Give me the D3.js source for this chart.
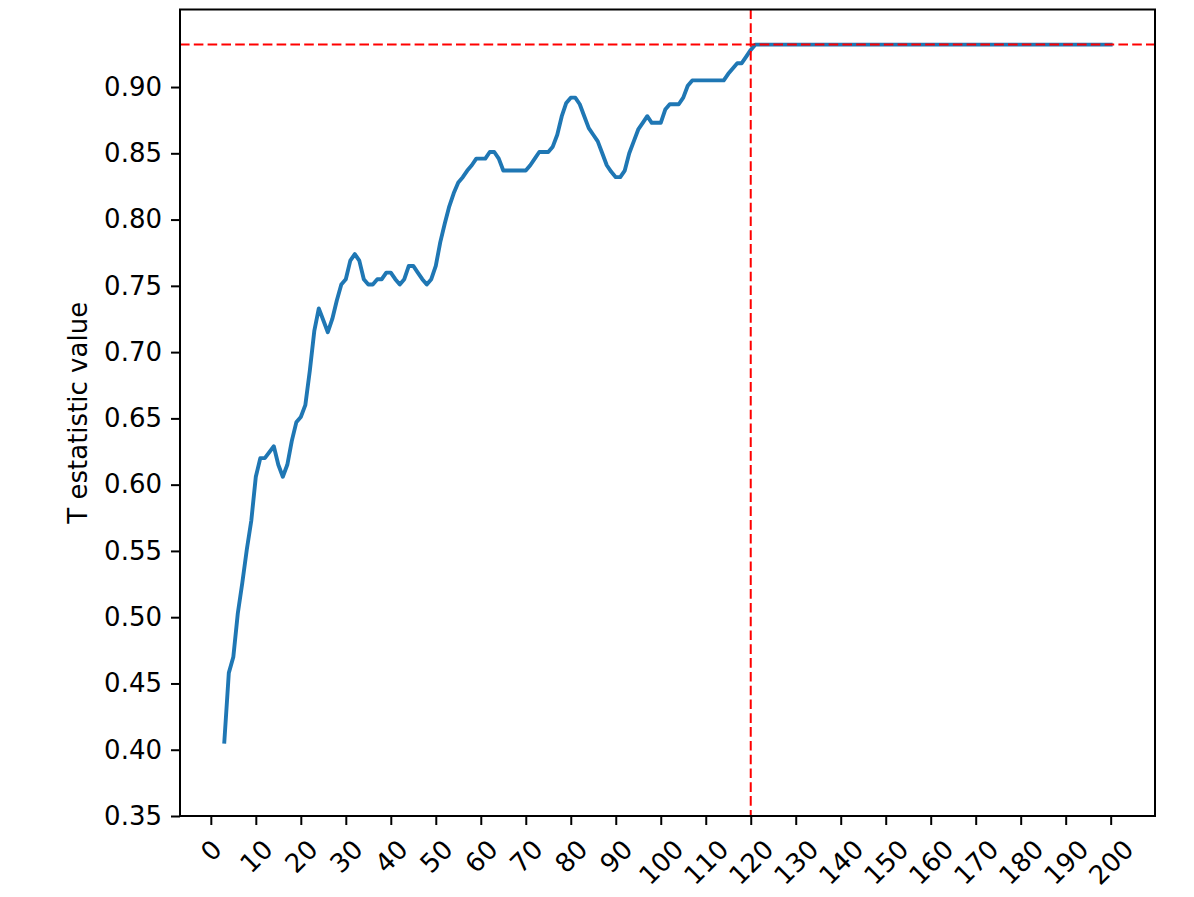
<!DOCTYPE html>
<html>
<head>
<meta charset="utf-8">
<script src="https://cdn.jsdelivr.net/npm/d3@7"></script>
<style>
  body { margin: 0; background: #fff; }
  text { font-family: "DejaVu Sans", sans-serif; }
</style>
</head>
<body>
<div id="chart"></div>
<script>
// Data
const steps = [3, 4, 5, 6, 7, 8, 9, 10, 11, 12, 14, 15, 16, 17, 18, 19, 20, 21, 22, 23,
  24, 25, 26, 27, 28, 29, 30, 31, 32, 33, 34, 35, 36, 37, 38, 39, 40, 41, 42, 43,
  44, 45, 46, 47, 48, 49, 50, 51, 52, 53, 54, 55, 56, 57, 58, 59, 61, 62, 63, 64,
  65, 70, 71, 72, 73, 75, 76, 77, 78, 79, 80, 81, 82, 83, 84, 85, 86, 87, 88, 89,
  90, 91, 92, 93, 94, 95, 96, 97, 98, 100, 101, 102, 104, 105, 106, 107, 114, 115, 116, 117,
  118, 119, 120, 121, 200];
const tValues = [0.406, 0.458, 0.470, 0.503, 0.526, 0.551, 0.573, 0.606, 0.620, 0.620, 0.629, 0.615, 0.606, 0.615, 0.633, 0.647, 0.651, 0.660, 0.686, 0.716,
  0.733, 0.724, 0.715, 0.725, 0.739, 0.751, 0.755, 0.769, 0.774, 0.769, 0.755, 0.751, 0.751, 0.755, 0.755, 0.760, 0.760, 0.755, 0.751, 0.755,
  0.765, 0.765, 0.760, 0.755, 0.751, 0.755, 0.765, 0.783, 0.797, 0.810, 0.820, 0.828, 0.832, 0.837, 0.841, 0.846, 0.846, 0.851, 0.851, 0.846,
  0.837, 0.837, 0.841, 0.846, 0.851, 0.851, 0.855, 0.864, 0.878, 0.888, 0.892, 0.892, 0.887, 0.878, 0.869, 0.864, 0.859, 0.850, 0.841, 0.836,
  0.832, 0.832, 0.837, 0.850, 0.859, 0.868, 0.873, 0.878, 0.873, 0.873, 0.883, 0.887, 0.887, 0.892, 0.901, 0.905, 0.905, 0.910, 0.914, 0.918,
  0.918, 0.923, 0.928, 0.932, 0.932];
const xTicks = d3.range(0, 201, 10);
const yTicks = [0.35, 0.40, 0.45, 0.50, 0.55, 0.60, 0.65, 0.70, 0.75, 0.80, 0.85, 0.90];
const bestStep = 120;
const bestValue = 0.932;
const yLabel = "T estatistic value";

const width = 1194, height = 897;
const plotLeft = 180, plotRight = 1155, plotTop = 9.5, plotBottom = 816;
const fontSize = 26;

const svg = d3.select("#chart").append("svg")
    .attr("width", width)
    .attr("height", height);

const x = d3.scaleLinear().domain([-6.85, 209.85]).range([plotLeft, plotRight]);
const y = d3.scaleLinear().domain([0.35, 0.9585]).range([plotBottom, plotTop]);

// clip for the plotting area
svg.append("clipPath").attr("id", "clip")
  .append("rect")
    .attr("x", plotLeft).attr("y", plotTop)
    .attr("width", plotRight - plotLeft).attr("height", plotBottom - plotTop);

const plot = svg.append("g").attr("clip-path", "url(#clip)");

// T statistic curve
const line = d3.line()
    .x((d, i) => x(steps[i]))
    .y(d => y(d));

plot.append("path")
    .datum(tValues)
    .attr("d", line)
    .attr("fill", "none")
    .attr("stroke", "#1f77b4")
    .attr("stroke-width", 3.9)
    .attr("stroke-linejoin", "round")
    .attr("stroke-linecap", "square");

// Red dashed reference lines
plot.append("line")
    .attr("x1", plotLeft).attr("x2", plotRight)
    .attr("y1", y(bestValue)).attr("y2", y(bestValue))
    .attr("stroke", "red")
    .attr("stroke-width", 2)
    .attr("stroke-dasharray", "9.6,4.2");

plot.append("line")
    .attr("x1", x(bestStep)).attr("x2", x(bestStep))
    .attr("y1", plotTop).attr("y2", plotBottom)
    .attr("stroke", "red")
    .attr("stroke-width", 2)
    .attr("stroke-dasharray", "9.6,4.2");

// Axes
const yAxis = svg.append("g")
    .attr("transform", `translate(${plotLeft},0)`)
    .call(d3.axisLeft(y).tickValues(yTicks).tickFormat(d3.format(".2f"))
      .tickSize(9).tickPadding(9).tickSizeOuter(0));

yAxis.select(".domain").remove();
yAxis.selectAll(".tick line").attr("stroke", "#000").attr("stroke-width", 2);
yAxis.selectAll(".tick text")
    .attr("font-size", fontSize)
    .attr("font-family", "DejaVu Sans")
    .attr("fill", "#000");

const xAxis = svg.append("g")
    .attr("transform", `translate(0,${plotBottom})`)
    .call(d3.axisBottom(x).tickValues(xTicks).tickFormat(d3.format("d"))
      .tickSize(9).tickSizeOuter(0));

xAxis.select(".domain").remove();
xAxis.selectAll(".tick line").attr("stroke", "#000").attr("stroke-width", 2);

// rotated tick labels, bounding box centred under the tick
const textH = fontSize * 1.164;
xAxis.selectAll(".tick text")
    .attr("font-size", fontSize)
    .attr("font-family", "DejaVu Sans")
    .attr("fill", "#000")
    .attr("text-anchor", "middle")
    .attr("dy", null)
    .attr("dominant-baseline", "central")
    .each(function() {
      const w = this.getComputedTextLength();
      const cy = 18 + (w + textH) / (2 * Math.SQRT2);
      d3.select(this)
        .attr("x", 0)
        .attr("y", cy)
        .attr("transform", `rotate(-45,0,${cy})`);
    });

// frame
svg.append("rect")
    .attr("x", plotLeft).attr("y", plotTop)
    .attr("width", plotRight - plotLeft).attr("height", plotBottom - plotTop)
    .attr("fill", "none")
    .attr("stroke", "#000")
    .attr("stroke-width", 2);

// y axis label
svg.append("text")
    .attr("transform", `translate(78,${(plotTop + plotBottom) / 2}) rotate(-90)`)
    .attr("text-anchor", "middle")
    .attr("dominant-baseline", "central")
    .attr("font-size", fontSize)
    .attr("fill", "#000")
    .text(yLabel);
</script>
</body>
</html>
